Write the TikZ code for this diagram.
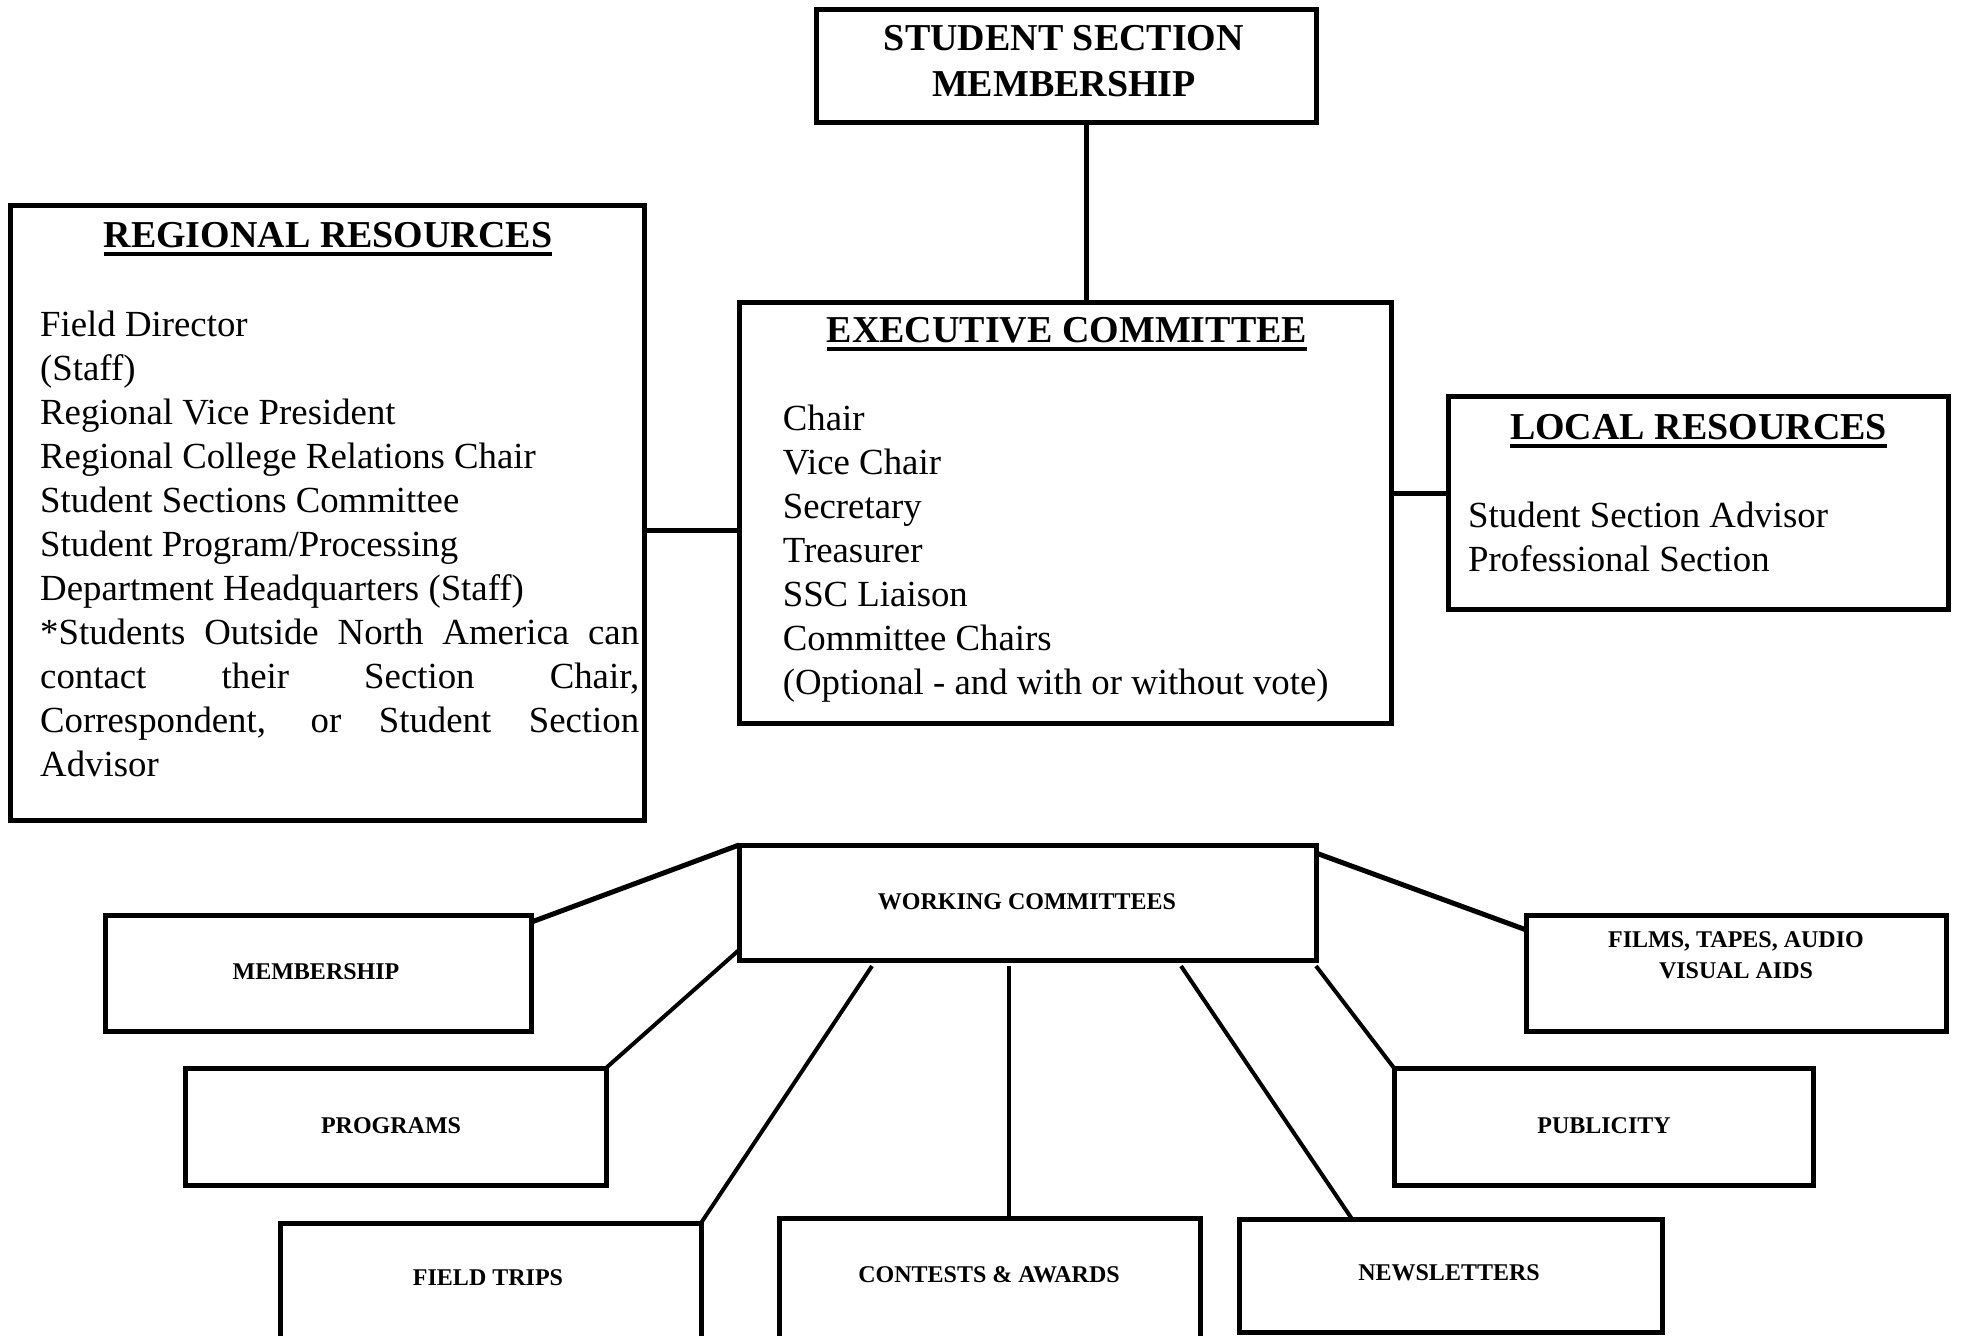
\documentclass[tikz,border=0pt]{standalone}
\usepackage{fontspec}
\setmainfont{Liberation Serif}
\usetikzlibrary{calc}
\newcommand\myul[1]{\setbox0=\hbox{#1}\rlap{\rule[-8.5pt]{\wd0}{4pt}}\box0}
\hyphenpenalty=10000
\exhyphenpenalty=10000
\tolerance=10000
\emergencystretch=0pt
\hbadness=10000
\begin{document}
\hyphenpenalty=10000
\exhyphenpenalty=10000
\tolerance=10000
\begin{tikzpicture}[x=1pt,y=-1pt,
  box/.style={draw, line width=5pt, inner sep=0pt, outer sep=0pt},
  conn/.style={line width=5pt},
  fan/.style={line width=4pt},
  title/.style={anchor=base, inner sep=0pt, align=center, font={\fontsize{38}{46}\selectfont\bfseries}},
  body/.style={anchor=base west, inner sep=0pt, align=left, font={\fontsize{36.8}{44}\selectfont}},
  small/.style={anchor=base, inner sep=0pt, align=center, font={\fontsize{24}{31}\selectfont\bfseries}}]
\useasboundingbox (0,0) rectangle (1961,1335);
\clip (0,0) rectangle (1961,1335);

% top boxes (multi-line nodes are anchored at the baseline of their last line)
\node[box, minimum width=500pt, minimum height=113pt] (ssm) at (1066,66.5) {};
\node[title] (ssmt) at (1064,96.7) {STUDENT SECTION\\MEMBERSHIP};

\node[box, minimum width=652pt, minimum height=421pt] (exec) at (1065,512.5) {};
\node[title] (exect) at (1067,342.7) {\myul{EXECUTIVE COMMITTEE}};
\node[body] (execb) at (782.6,694) {Chair\\Vice Chair\\Secretary\\Treasurer\\SSC Liaison\\Committee Chairs\\(Optional - and with or without vote)};

\node[box, minimum width=634pt, minimum height=615pt] (reg) at (327,512.5) {};
\node[title] (regt) at (328,247) {\myul{REGIONAL RESOURCES}};
\node[body, text width=599pt, align=justify]
  (regb) at (40,336) {Field Director\\(Staff)\\Regional Vice President\\Regional College Relations Chair\\Student Sections Committee\\Student Program/Processing\\Department Headquarters (Staff)\\{}*Students Outside North America can\linebreak contact their Section Chair,\linebreak Correspondent, or Student Section\linebreak Advisor};

\node[box, minimum width=500pt, minimum height=213pt] (loc) at (1698.5,502.5) {};
\node[title] (loct) at (1698.5,439) {\myul{LOCAL RESOURCES}};
\node[body] (locb) at (1468,571) {Student Section Advisor\\Professional Section};

% top connectors
\coordinate (c1) at ($(ssm.south)+(20,0)$);
\draw[conn] (c1) -- (c1 |- exec.north);
\coordinate (c2) at ($(reg.east)+(0,17.5)$);
\draw[conn] (c2) -- (c2 -| exec.west);
\coordinate (c3) at ($(loc.west)+(0,-9.5)$);
\draw[conn] (c3) -- (c3 -| exec.east);

% working committees
\node[box, minimum width=577pt, minimum height=115pt] (wc) at (1027.5,902.5) {};
\node[small] (wct) at (1027,909) {WORKING COMMITTEES};

\node[box, minimum width=426pt, minimum height=116pt] (mem) at (318.5,973) {};
\node[small] (memt) at (316,979) {MEMBERSHIP};

\node[box, minimum width=420pt, minimum height=116pt] (films) at (1736.5,973) {};
\node[small] (filmst) at (1736,978) {FILMS, TAPES, AUDIO\\VISUAL AIDS};

\node[box, minimum width=421pt, minimum height=117pt] (prog) at (395.5,1126.5) {};
\node[small] (progt) at (391,1133) {PROGRAMS};

\node[box, minimum width=419pt, minimum height=117pt] (pub) at (1603.5,1126.5) {};
\node[small] (pubt) at (1604,1133) {PUBLICITY};

\node[box, minimum width=421pt, minimum height=122pt] (ft) at (490.5,1284) {};
\node[small] (ftt) at (488,1285) {FIELD TRIPS};

\node[box, minimum width=421pt, minimum height=120pt] (con) at (989.5,1278) {};
\node[small] (cont) at (989,1282) {CONTESTS \& AWARDS};

\node[box, minimum width=423pt, minimum height=113pt] (nl) at (1450.5,1275.5) {};
\node[small] (nlt) at (1449,1280) {NEWSLETTERS};

% fan connectors
\draw[conn] (wc.north west) -- ($(mem.north east)+(0,7)$);
\draw[fan] ($(wc.south west)+(0,-10)$) -- (prog.north east);
\draw[fan] ($(wc.south west)+(133,6)$) -- (ft.north east);
\coordinate (c4) at ($(wc.south west)+(270,6)$);
\draw[fan] (c4) -- (c4 |- con.north);
\draw[fan] ($(wc.south west)+(442,6)$) -- ($(nl.north west)+(113,0)$);
\draw[fan] ($(wc.south east)+(0,6)$) -- (pub.north west);
\draw[conn] ($(wc.north east)+(0,8)$) -- ($(films.north west)+(0,15)$);
\end{tikzpicture}
\end{document}
